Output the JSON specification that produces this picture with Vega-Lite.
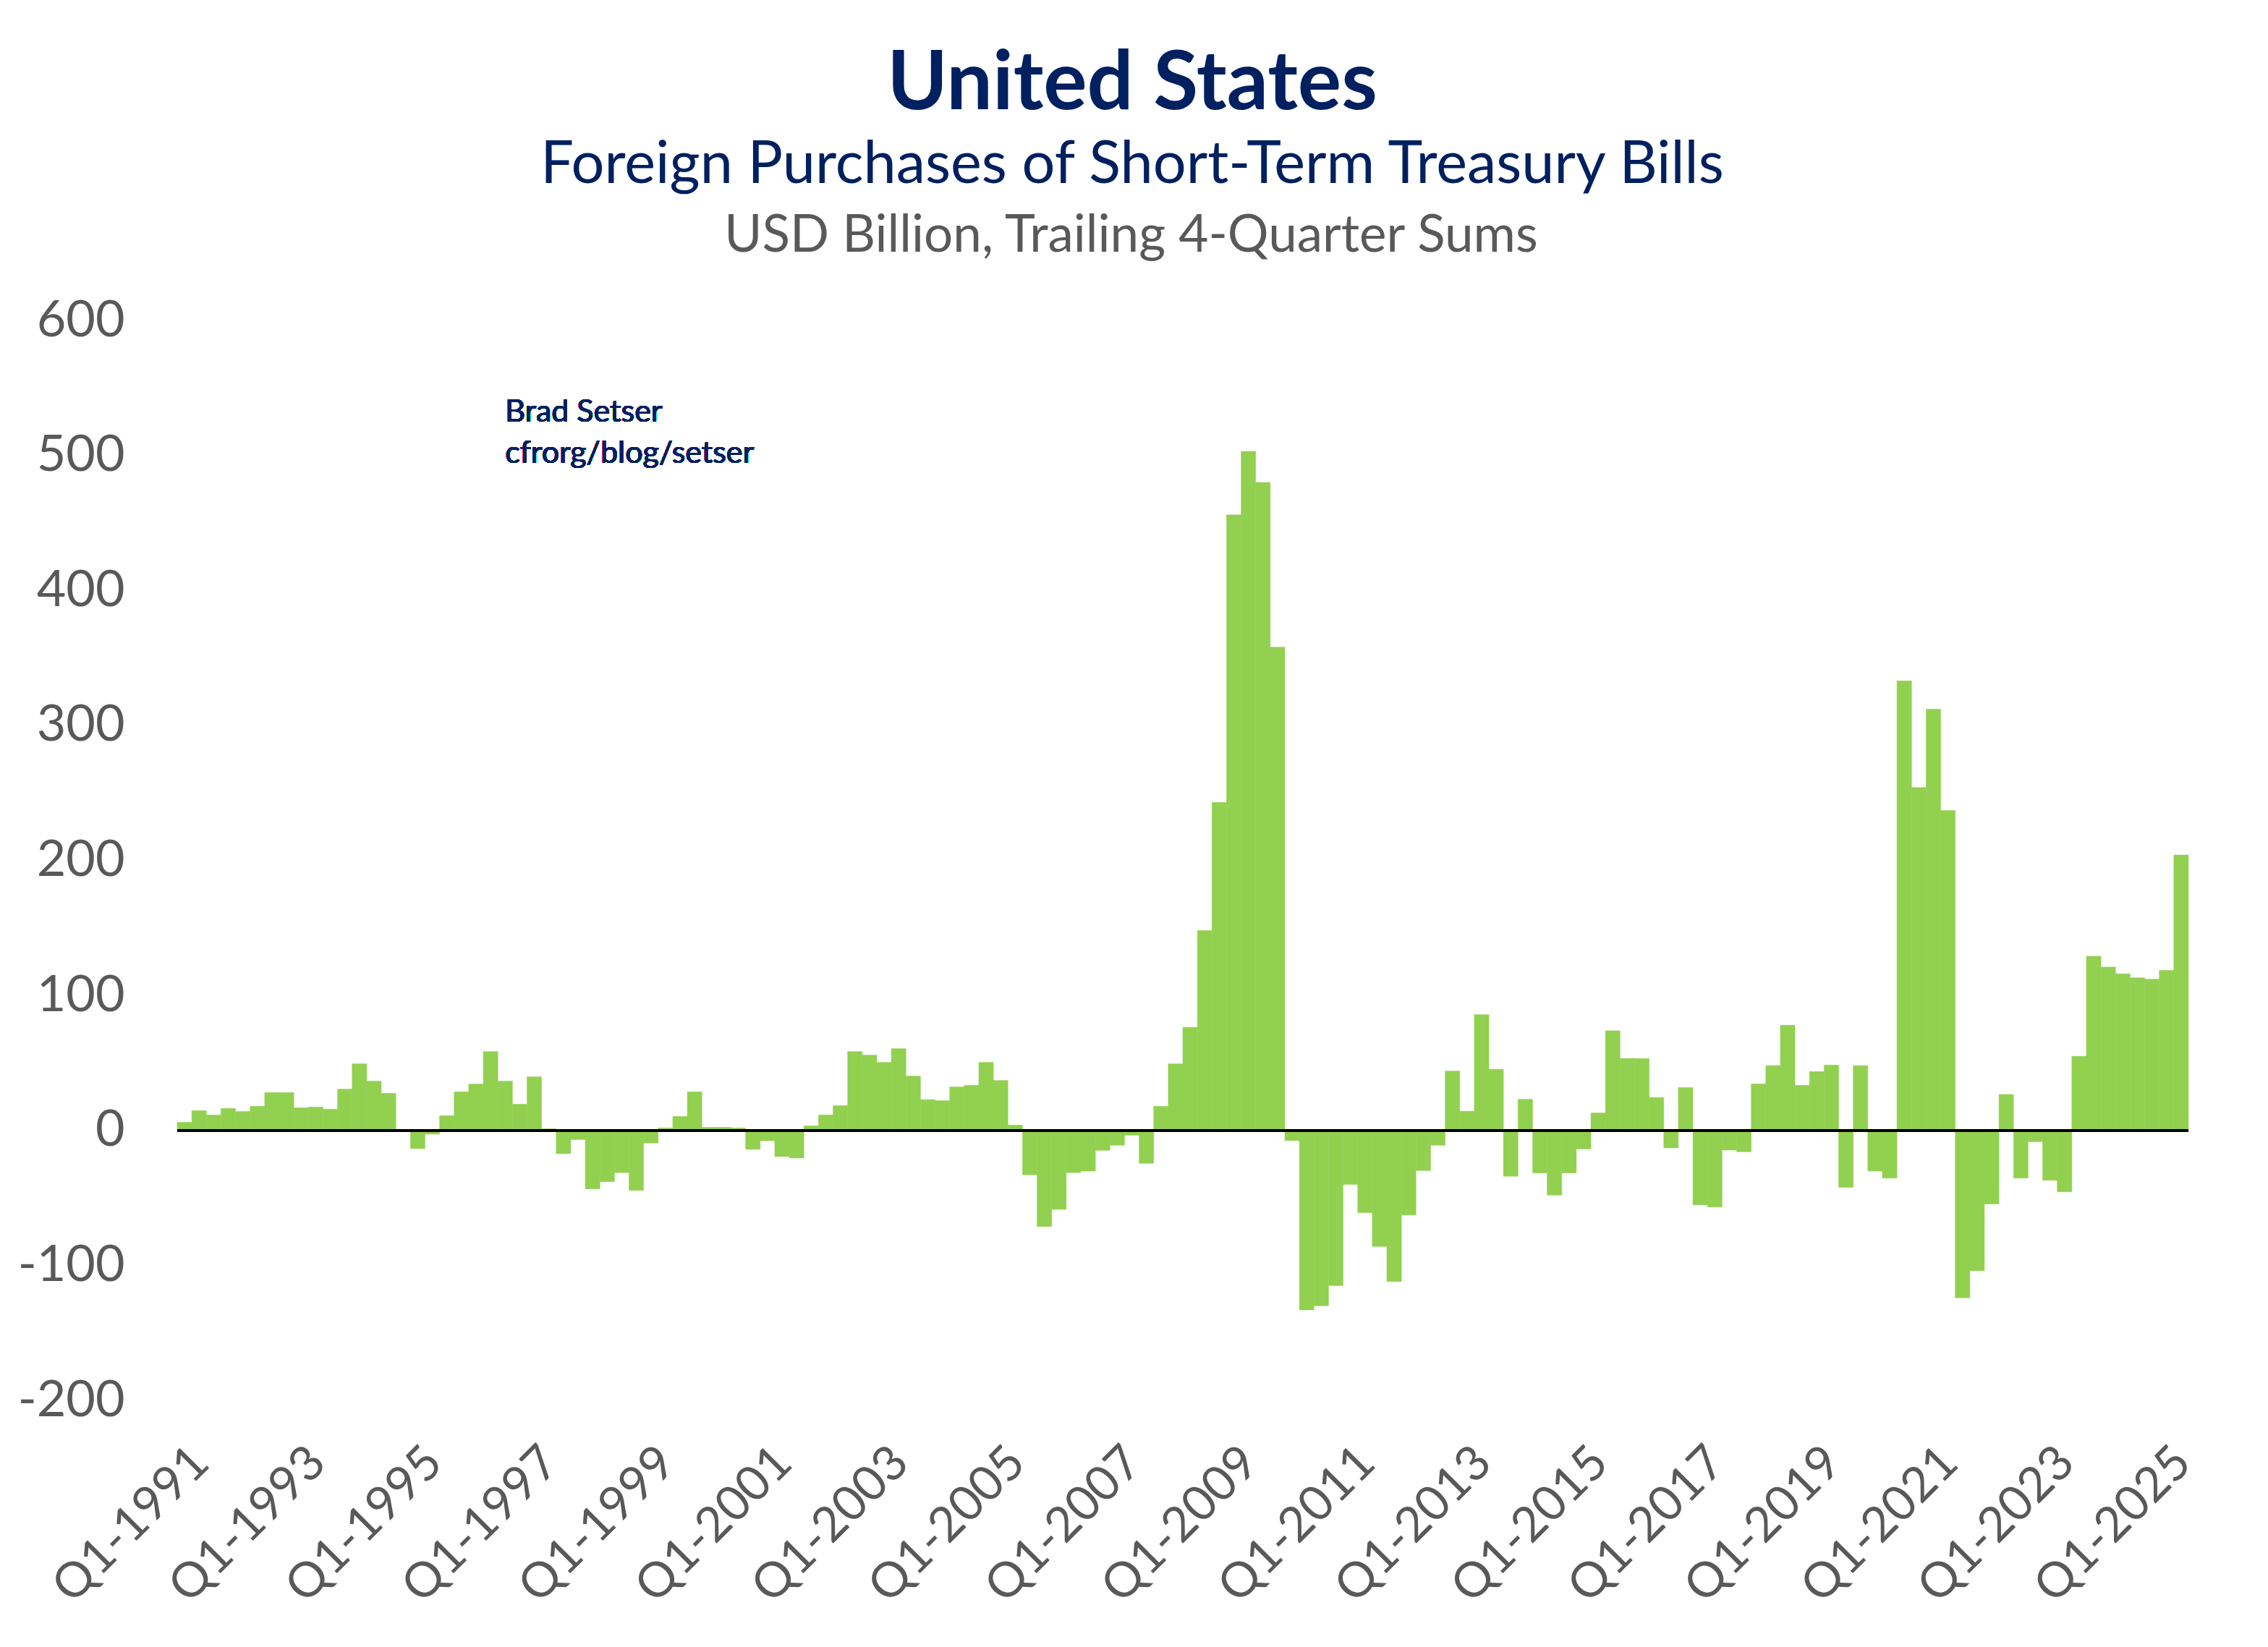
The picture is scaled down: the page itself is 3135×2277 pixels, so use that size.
{
  "$schema": "https://vega.github.io/schema/vega-lite/v6.json",
  "width": 2780,
  "height": 1493,
  "autosize": {"type": "none"},
  "padding": {"left": 245, "top": 443, "right": 110, "bottom": 341},
  "background": "white",
  "title": {
    "text": "United States",
    "subtitle": "Foreign Purchases of Short-Term Treasury Bills",
    "anchor": "middle",
    "dx": -70,
    "offset": 20,
    "font": "Lato",
    "fontSize": 113,
    "fontWeight": "bold",
    "color": "#002060",
    "subtitleFont": "Lato",
    "subtitleFontSize": 81,
    "subtitleColor": "#002060",
    "subtitlePadding": 14
  },
  "config": {
    "view": {"stroke": null},
    "font": "Lato"
  },
  "data": {
    "values": [
      {"q": "Q1-1991", "v": 6}, {"q": "Q2-1991", "v": 14.6}, {"q": "Q3-1991", "v": 11.4}, {"q": "Q4-1991", "v": 16.2},
      {"q": "Q1-1992", "v": 14}, {"q": "Q2-1992", "v": 17.8}, {"q": "Q3-1992", "v": 28}, {"q": "Q4-1992", "v": 28},
      {"q": "Q1-1993", "v": 16.7}, {"q": "Q2-1993", "v": 17.3}, {"q": "Q3-1993", "v": 15.7}, {"q": "Q4-1993", "v": 30.6},
      {"q": "Q1-1994", "v": 49.3}, {"q": "Q2-1994", "v": 36.5}, {"q": "Q3-1994", "v": 27.4}, {"q": "Q4-1994", "v": 0},
      {"q": "Q1-1995", "v": -13.5}, {"q": "Q2-1995", "v": -2.8}, {"q": "Q3-1995", "v": 10.9}, {"q": "Q4-1995", "v": 28.5},
      {"q": "Q1-1996", "v": 34.3}, {"q": "Q2-1996", "v": 58.4}, {"q": "Q3-1996", "v": 36.5}, {"q": "Q4-1996", "v": 19.4},
      {"q": "Q1-1997", "v": 39.7}, {"q": "Q2-1997", "v": 1.2}, {"q": "Q3-1997", "v": -17.3}, {"q": "Q4-1997", "v": -6.8},
      {"q": "Q1-1998", "v": -43.4}, {"q": "Q2-1998", "v": -38}, {"q": "Q3-1998", "v": -31.3}, {"q": "Q4-1998", "v": -44.5},
      {"q": "Q1-1999", "v": -9.4}, {"q": "Q2-1999", "v": 1.8}, {"q": "Q3-1999", "v": 10.3}, {"q": "Q4-1999", "v": 28.5},
      {"q": "Q1-2000", "v": 2.3}, {"q": "Q2-2000", "v": 2.3}, {"q": "Q3-2000", "v": 1.8}, {"q": "Q4-2000", "v": -14},
      {"q": "Q1-2001", "v": -7.7}, {"q": "Q2-2001", "v": -19.4}, {"q": "Q3-2001", "v": -20.5}, {"q": "Q4-2001", "v": 3.4},
      {"q": "Q1-2002", "v": 11.4}, {"q": "Q2-2002", "v": 18.3}, {"q": "Q3-2002", "v": 58.4}, {"q": "Q4-2002", "v": 55.7},
      {"q": "Q1-2003", "v": 50.4}, {"q": "Q2-2003", "v": 60.5}, {"q": "Q3-2003", "v": 40.2}, {"q": "Q4-2003", "v": 22.8},
      {"q": "Q1-2004", "v": 22}, {"q": "Q2-2004", "v": 32.2}, {"q": "Q3-2004", "v": 33.3}, {"q": "Q4-2004", "v": 50.4},
      {"q": "Q1-2005", "v": 37}, {"q": "Q2-2005", "v": 3.9}, {"q": "Q3-2005", "v": -32.9}, {"q": "Q4-2005", "v": -71.2},
      {"q": "Q1-2006", "v": -58.5}, {"q": "Q2-2006", "v": -31.3}, {"q": "Q3-2006", "v": -30.2}, {"q": "Q4-2006", "v": -14.8},
      {"q": "Q1-2007", "v": -11}, {"q": "Q2-2007", "v": -3.6}, {"q": "Q3-2007", "v": -24.4}, {"q": "Q4-2007", "v": 17.8},
      {"q": "Q1-2008", "v": 49.3}, {"q": "Q2-2008", "v": 76.4}, {"q": "Q3-2008", "v": 148}, {"q": "Q4-2008", "v": 243},
      {"q": "Q1-2009", "v": 456}, {"q": "Q2-2009", "v": 503}, {"q": "Q3-2009", "v": 480}, {"q": "Q4-2009", "v": 358},
      {"q": "Q1-2010", "v": -7.6}, {"q": "Q2-2010", "v": -133}, {"q": "Q3-2010", "v": -130}, {"q": "Q4-2010", "v": -115},
      {"q": "Q1-2011", "v": -40}, {"q": "Q2-2011", "v": -61}, {"q": "Q3-2011", "v": -86}, {"q": "Q4-2011", "v": -112},
      {"q": "Q1-2012", "v": -62.7}, {"q": "Q2-2012", "v": -29.8}, {"q": "Q3-2012", "v": -11}, {"q": "Q4-2012", "v": 44},
      {"q": "Q1-2013", "v": 14.2}, {"q": "Q2-2013", "v": 85.8}, {"q": "Q3-2013", "v": 45.3}, {"q": "Q4-2013", "v": -34},
      {"q": "Q1-2014", "v": 23}, {"q": "Q2-2014", "v": -31.6}, {"q": "Q3-2014", "v": -48}, {"q": "Q4-2014", "v": -31.6},
      {"q": "Q1-2015", "v": -13.8}, {"q": "Q2-2015", "v": 12.9}, {"q": "Q3-2015", "v": 73.8}, {"q": "Q4-2015", "v": 53.3},
      {"q": "Q1-2016", "v": 53.2}, {"q": "Q2-2016", "v": 24.4}, {"q": "Q3-2016", "v": -13}, {"q": "Q4-2016", "v": 31.8},
      {"q": "Q1-2017", "v": -55.2}, {"q": "Q2-2017", "v": -56.8}, {"q": "Q3-2017", "v": -14.6}, {"q": "Q4-2017", "v": -15.9},
      {"q": "Q1-2018", "v": 34.4}, {"q": "Q2-2018", "v": 48}, {"q": "Q3-2018", "v": 77.9}, {"q": "Q4-2018", "v": 33.4},
      {"q": "Q1-2019", "v": 43.5}, {"q": "Q2-2019", "v": 48.4}, {"q": "Q3-2019", "v": -42.2}, {"q": "Q4-2019", "v": 48},
      {"q": "Q1-2020", "v": -30.2}, {"q": "Q2-2020", "v": -35.4}, {"q": "Q3-2020", "v": 333}, {"q": "Q4-2020", "v": 254},
      {"q": "Q1-2021", "v": 312}, {"q": "Q2-2021", "v": 237}, {"q": "Q3-2021", "v": -124}, {"q": "Q4-2021", "v": -104},
      {"q": "Q1-2022", "v": -54.5}, {"q": "Q2-2022", "v": 26.6}, {"q": "Q3-2022", "v": -35.4}, {"q": "Q4-2022", "v": -8.4},
      {"q": "Q1-2023", "v": -37}, {"q": "Q2-2023", "v": -45.5}, {"q": "Q3-2023", "v": 54.9}, {"q": "Q4-2023", "v": 129},
      {"q": "Q1-2024", "v": 121}, {"q": "Q2-2024", "v": 116}, {"q": "Q3-2024", "v": 113}, {"q": "Q4-2024", "v": 112},
      {"q": "Q1-2025", "v": 118.5}, {"q": "Q2-2025", "v": 204}
    ]
  },
  "layer": [
    {
      "mark": {"type": "bar", "color": "#92D050", "stroke": "#92D050", "strokeWidth": 0.5},
      "encoding": {
        "x": {
          "field": "q",
          "type": "ordinal",
          "sort": null,
          "scale": {"paddingInner": 0, "paddingOuter": 0},
          "axis": {
            "title": null,
            "values": ["Q1-1991", "Q1-1993", "Q1-1995", "Q1-1997", "Q1-1999", "Q1-2001", "Q1-2003", "Q1-2005", "Q1-2007", "Q1-2009", "Q1-2011", "Q1-2013", "Q1-2015", "Q1-2017", "Q1-2019", "Q1-2021", "Q1-2023", "Q1-2025"],
            "labelAngle": -45,
            "labelLimit": 0,
            "ticks": false,
            "domain": false,
            "labelPadding": 52,
            "labelFont": "Lato",
            "labelFontSize": 67,
            "labelColor": "#595959"
          }
        },
        "y": {
          "field": "v",
          "type": "quantitative",
          "scale": {"domain": [-200, 600], "nice": false},
          "axis": {
            "values": [-200, -100, 0, 100, 200, 300, 400, 500, 600],
            "labelExpr": "'' + datum.value",
            "grid": false,
            "domain": false,
            "ticks": false,
            "labelPadding": 73,
            "labelFont": "Lato",
            "labelFontSize": 70,
            "labelColor": "#595959",
            "title": "USD Billion, Trailing 4-Quarter Sums",
            "titleAngle": 0,
            "titleAlign": "center",
            "titleBaseline": "alphabetic",
            "titleX": 1318,
            "titleY": -96,
            "titleFont": "Lato",
            "titleFontSize": 71,
            "titleFontWeight": "normal",
            "titleColor": "#595959"
          }
        }
      }
    },
    {
      "mark": {"type": "rule", "color": "black", "strokeWidth": 3},
      "encoding": {"y": {"datum": 0}}
    },
    {
      "mark": {
        "type": "text",
        "text": ["Brad Setser", "cfrorg/blog/setser"],
        "align": "left",
        "baseline": "alphabetic",
        "lineHeight": 57,
        "font": "Lato",
        "fontSize": 43,
        "fontWeight": "normal",
        "color": "#002060"
      },
      "encoding": {
        "x": {"datum": "Q3-1996"},
        "y": {"datum": 525}
      }
    }
  ]
}
